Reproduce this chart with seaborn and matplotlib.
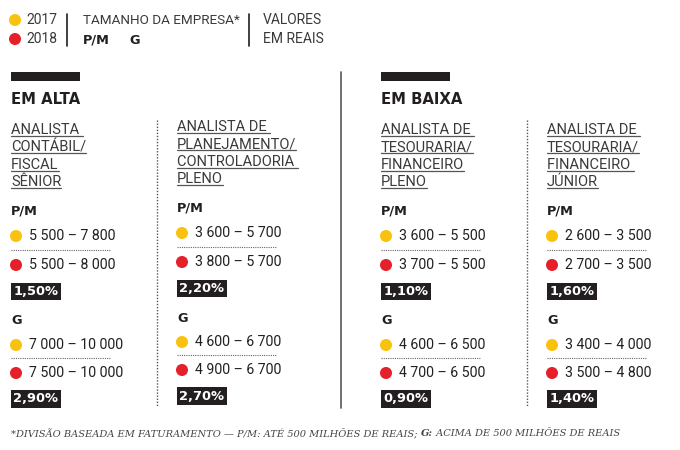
import matplotlib
matplotlib.use("Agg")
import matplotlib.pyplot as plt
import seaborn as sns
import pandas as pd

# data
sections = ["EM ALTA", "EM BAIXA"]
titles = [
    ["ANALISTA ", "CONTÁBIL/", "FISCAL", "SÊNIOR"],
    ["ANALISTA DE ", "PLANEJAMENTO/", "CONTROLADORIA ", "PLENO"],
    ["ANALISTA DE ", "TESOURARIA/", "FINANCEIRO", "PLENO"],
    ["ANALISTA DE ", "TESOURARIA/", "FINANCEIRO ", "JÚNIOR"],
]
pm_2017 = ["5 500 – 7 800", "3 600 – 5 700", "3 600 – 5 500", "2 600 – 3 500"]
pm_2018 = ["5 500 – 8 000", "3 800 – 5 700", "3 700 – 5 500", "2 700 – 3 500"]
pm_var = ["1,50%", "2,20%", "1,10%", "1,60%"]
g_2017 = ["7 000 – 10 000", "4 600 – 6 700", "4 600 – 6 500", "3 400 – 4 000"]
g_2018 = ["7 500 – 10 000", "4 900 – 6 700", "4 700 – 6 500", "3 500 – 4 800"]
g_var = ["2,90%", "2,70%", "0,90%", "1,40%"]
years = ["2017", "2018"]
footnote = [("*DIVISÃO BASEADA EM FATURAMENTO — P/M: ATÉ 500 MILHÕES DE REAIS; ", "normal"),
            ("G:", "bold"),
            (" ACIMA DE 500 MILHÕES DE REAIS", "normal")]

YELLOW = "#F9C20F"
RED = "#E5202B"
DARK = "#231F20"
GRAY = "#3a3a3a"
BOLD = ["DejaVu Sans"]

sns.set_theme(style="white")
plt.rcParams["font.family"] = ["Liberation Sans Narrow", "Roboto", "DejaVu Sans"]

fig = plt.figure(figsize=(6.8, 4.5), dpi=100)
ax = fig.add_axes([0, 0, 1, 1])

col_x = [11, 177, 381, 547]
col_dy = [0, -3, 0, 0]

# header legend
ax.text(26, 20, "2017", fontsize=10, color=GRAY, va="center")
ax.text(26, 39, "2018", fontsize=10, color=GRAY, va="center")
ax.plot([67, 67], [14, 46], color=DARK, lw=1.2)
ax.text(83, 20, "TAMANHO DA EMPRESA*", fontsize=9.7, color=GRAY, va="center")
ax.text(83, 40, "P/M", fontsize=9.3, color=DARK, va="center", weight="bold", family=BOLD)
ax.text(129, 40, "G", fontsize=9.3, color=DARK, va="center", weight="bold", family=BOLD)
ax.plot([249, 249], [14, 46], color=DARK, lw=1.2)
ax.text(263, 20, "VALORES", fontsize=10, color=GRAY, va="center")
ax.text(263, 39, "EM REAIS", fontsize=10, color=GRAY, va="center")

# sections
for i, name in enumerate(sections):
    x0 = col_x[2 * i]
    ax.add_patch(plt.Rectangle((x0, 72), 69, 9, color=DARK, lw=0))
    ax.text(x0, 100, name, fontsize=10.7, weight="bold", color=DARK, va="center",
            family=BOLD)

ax.plot([341, 341], [72, 408], color="#555555", lw=1.2)
for xd in [157, 527]:
    ax.plot([xd, xd], [120, 406], color="#555555", lw=1, ls=(0, (1, 1.2)))

dots = []
underline_texts = []
for c in range(4):
    x0 = col_x[c]
    dy = col_dy[c]
    for k, line in enumerate(titles[c]):
        t = ax.text(x0, 130 + dy + 17.4 * k, line, fontsize=10.5, color=GRAY, va="center")
        underline_texts.append(t)
    ax.text(x0, 211 + dy, "P/M", fontsize=9.3, weight="bold", color=DARK, va="center",
            family=BOLD)
    ax.text(x0, 321 + dy, "G", fontsize=9.3, weight="bold", color=DARK, va="center",
            family=BOLD)
    rows = [(236, pm_2017[c], "2017"), (265, pm_2018[c], "2018"),
            (345, g_2017[c], "2017"), (373, g_2018[c], "2018")]
    for y, label, yr in rows:
        ax.text(x0 + 18, y + dy, label, fontsize=10.2, color=DARK, va="center")
        dots.append({"x": x0 + 5, "y": y + dy, "year": yr})
    for y in [250, 358]:
        ax.plot([x0, x0 + 99], [y + dy, y + dy], color="#666666", lw=0.8, ls=(0, (1, 1)))
    for y, label in [(291.5, pm_var[c]), (399, g_var[c])]:
        ax.text(x0 + 2.5, y + dy, label, fontsize=9.4, weight="bold", color="white",
                va="center", family=BOLD,
                bbox=dict(boxstyle="square,pad=0.18", fc=DARK, ec="none"))

# legend dots
dots.append({"x": 15, "y": 20, "year": "2017"})
dots.append({"x": 15, "y": 39, "year": "2018"})
dot_df = pd.DataFrame(dots)
sns.scatterplot(data=dot_df, x="x", y="y", hue="year", hue_order=years,
                palette=[YELLOW, RED], s=75, linewidth=0, legend=False, ax=ax)
ax.set_xlim(0, 680)
ax.set_ylim(450, 0)
ax.axis("off")

# underline titles
fig.canvas.draw()
r = fig.canvas.get_renderer()
inv = ax.transData.inverted()
for t in underline_texts:
    bb = t.get_window_extent(renderer=r)
    (xa, yb), (xb, _) = inv.transform([[bb.x0, bb.y0], [bb.x1, bb.y1]])
    ax.plot([xa, xb], [yb - 1, yb - 1], color="#555555", lw=0.9)

# footnote, pieces placed one after the other
fx = 11
for part, w in footnote:
    t = ax.text(fx, 434, part, fontsize=7.1, style="italic", weight=w, color="#444444",
                va="center", family=["DejaVu Serif"])
    bb = t.get_window_extent(renderer=r)
    fx = inv.transform([[bb.x1, bb.y0]])[0][0]

fig.savefig("out.png", dpi=100)
